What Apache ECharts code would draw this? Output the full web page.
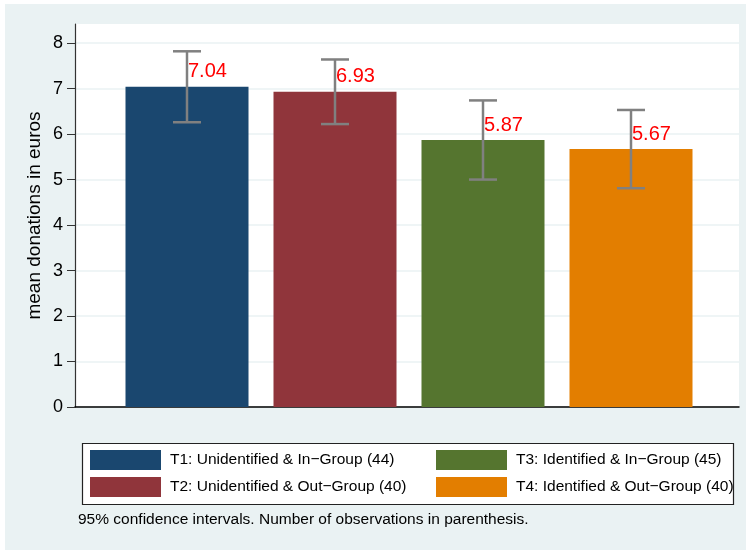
<!DOCTYPE html>
<html>
<head>
<meta charset="utf-8">
<script src="https://cdn.jsdelivr.net/npm/echarts@6/dist/echarts.min.js"></script>
<style>
  html, body { margin: 0; padding: 0; background: #ffffff; }
  #chart { width: 746px; height: 550px; }
</style>
</head>
<body>
<div id="chart"></div>
<script>
// Treatment groups (number of observations in parenthesis)
const categories = [
  'T1: Unidentified & In\u2212Group (44)',
  'T2: Unidentified & Out\u2212Group (40)',
  'T3: Identified & In\u2212Group (45)',
  'T4: Identified & Out\u2212Group (40)'
];
// Mean donation per group, in euros
const means = [7.04, 6.93, 5.87, 5.67];
// 95% confidence interval bounds
const ciLow = [6.26, 6.22, 5.00, 4.81];
const ciHigh = [7.82, 7.64, 6.74, 6.53];
// Y-axis ticks
const yTicks = [0, 1, 2, 3, 4, 5, 6, 7, 8];
const yMax = 8.42;

const colors = ['#1a476f', '#90353b', '#55752f', '#e37e00'];
const FONT = '"Liberation Sans", Arial, Helvetica, sans-serif';

const chart = echarts.init(document.getElementById('chart'), null, { renderer: 'canvas' });

const barSeries = categories.map((name, i) => ({
  type: 'bar',
  name: name,
  xAxisIndex: 1,
  yAxisIndex: 1,
  data: means.map((v, j) => (j === i ? v : '-')),
  barWidth: 123,
  barGap: '-100%',
  itemStyle: { color: colors[i] },
  z: 2
}));

const ciData = means.map((m, i) => [i, ciLow[i], ciHigh[i], m]);

// Confidence interval whiskers with the mean printed beside them
const ciSeries = {
  type: 'custom',
  name: 'ci',
  xAxisIndex: 1,
  yAxisIndex: 1,
  data: ciData,
  encode: { x: 0, y: [1, 2] },
  z: 5,
  renderItem: function (params, api) {
    const x = api.value(0);
    const lo = api.coord([x, api.value(1)]);
    const hi = api.coord([x, api.value(2)]);
    const top = api.coord([x, api.value(3)]);
    const half = 14;
    const lineStyle = { stroke: '#808080', lineWidth: 2.5 };
    return {
      type: 'group',
      children: [
        { type: 'line', shape: { x1: lo[0], y1: lo[1], x2: hi[0], y2: hi[1] }, style: lineStyle },
        { type: 'line', shape: { x1: lo[0] - half, y1: lo[1], x2: lo[0] + half, y2: lo[1] }, style: lineStyle },
        { type: 'line', shape: { x1: hi[0] - half, y1: hi[1], x2: hi[0] + half, y2: hi[1] }, style: lineStyle },
        {
          type: 'text',
          style: {
            text: api.value(3).toFixed(2),
            x: top[0] + 1,
            y: top[1] - 15,
            align: 'left',
            verticalAlign: 'middle',
            fill: '#ff0000',
            font: '20px ' + FONT
          }
        }
      ]
    };
  }
};

const legendCommon = {
  orient: 'vertical',
  itemWidth: 71,
  itemHeight: 20,
  itemGap: 7,
  icon: 'rect',
  selectedMode: false,
  textStyle: { fontSize: 15.5, color: '#000', fontFamily: FONT, padding: [0, 0, 0, 4] }
};

chart.setOption({
  animation: false,
  backgroundColor: '#eaf2f3',
  textStyle: { fontFamily: FONT },
  graphic: [
    { type: 'rect', shape: { x: 0, y: 0, width: 5, height: 550 }, style: { fill: '#ffffff' }, silent: true },
    { type: 'rect', shape: { x: 0, y: 0, width: 746, height: 4 }, style: { fill: '#ffffff' }, silent: true },
    {
      type: 'rect',
      shape: { x: 82.5, y: 443.5, width: 651, height: 61 },
      style: { fill: '#ffffff', stroke: '#222', lineWidth: 1.2 },
      silent: true,
      z: 1
    },
    {
      type: 'text',
      x: 78,
      y: 520,
      style: {
        text: '95% confidence intervals. Number of observations in parenthesis.',
        font: '15.5px ' + FONT,
        fill: '#000',
        verticalAlign: 'middle'
      },
      silent: true
    }
  ],
  legend: [
    Object.assign({ left: 85, top: 445, data: [categories[0], categories[1]], z: 10 }, legendCommon),
    Object.assign({ left: 431, top: 445, data: [categories[2], categories[3]], z: 10 }, legendCommon)
  ],
  grid: [
    { left: 75, right: 7, top: 24, bottom: 143, show: true, backgroundColor: '#ffffff', borderWidth: 0 },
    { left: 113, right: 41, top: 24, bottom: 143 }
  ],
  xAxis: [
    {
      type: 'value', gridIndex: 0, min: 0, max: 1,
      axisLine: { show: true, lineStyle: { color: '#000', width: 1.5 } },
      axisTick: { show: false }, axisLabel: { show: false }, splitLine: { show: false }
    },
    {
      type: 'category', gridIndex: 1, data: categories, show: false
    }
  ],
  yAxis: [
    {
      type: 'value', gridIndex: 0, min: 0, max: yMax,
      name: 'mean donations in euros',
      nameLocation: 'middle',
      nameRotate: 90,
      nameGap: 31,
      nameMoveOverlap: false,
      nameTextStyle: { fontSize: 19, color: '#000', fontFamily: FONT },
      axisLine: { show: true, lineStyle: { color: '#333', width: 1.2 } },
      axisTick: { show: true, length: 8, customValues: yTicks, lineStyle: { color: '#333', width: 1 } },
      axisLabel: { customValues: yTicks, fontSize: 18, color: '#000', margin: 12, fontFamily: FONT },
      splitLine: { show: true, lineStyle: { color: '#eaf2f3', width: 1.5 } }
    },
    {
      type: 'value', gridIndex: 1, min: 0, max: yMax, show: false, splitLine: { show: false }
    }
  ],
  series: barSeries.concat([ciSeries])
});
</script>
</body>
</html>
